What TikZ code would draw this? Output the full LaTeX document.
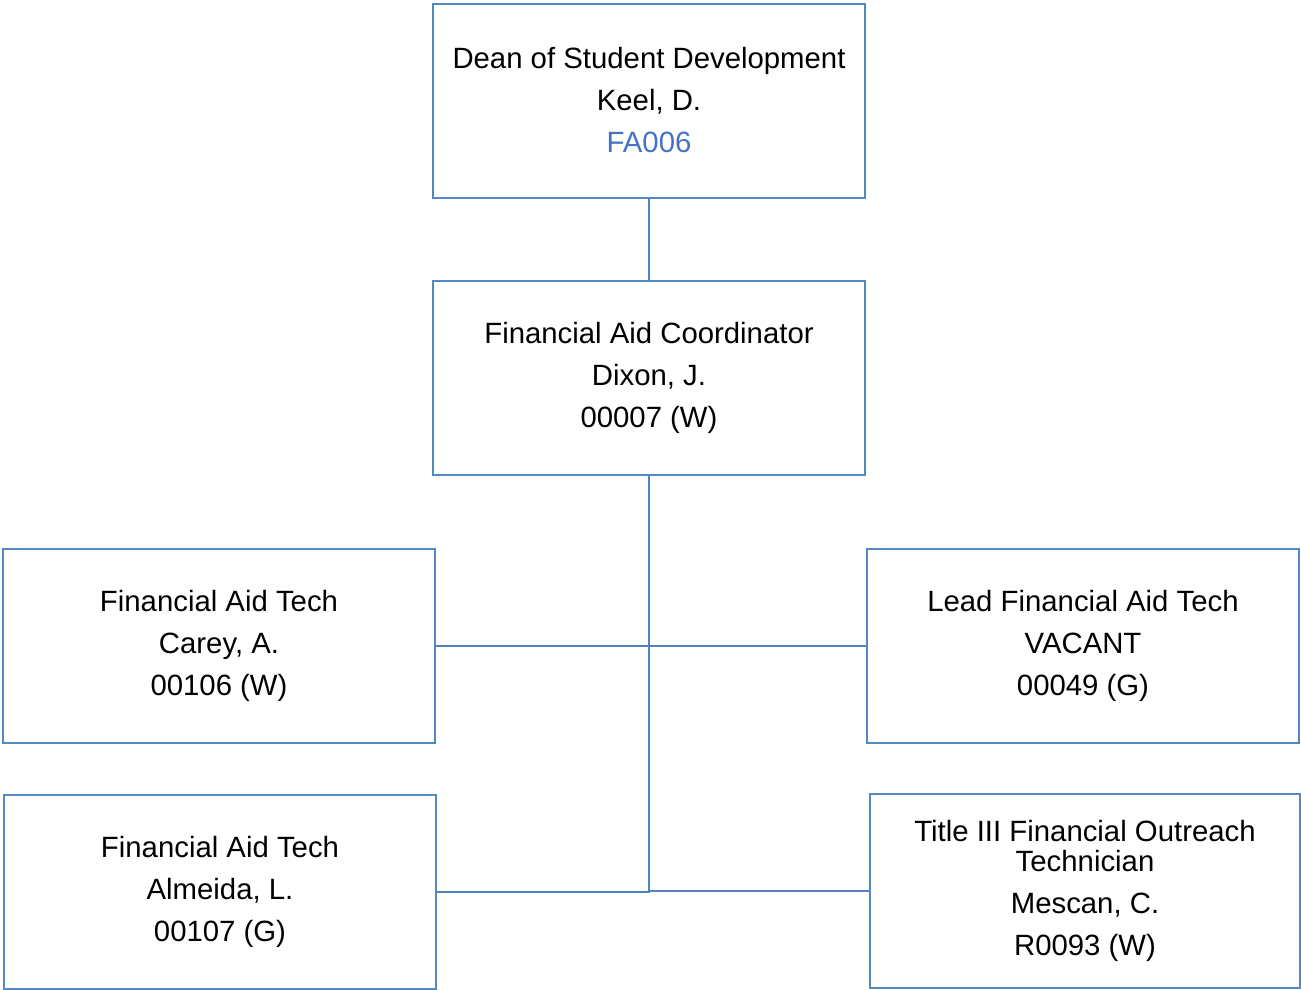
\documentclass[tikz,border=0pt]{standalone}
\usepackage{fontspec}
\setmainfont{Liberation Sans}
\usepackage{xcolor}
\usetikzlibrary{positioning, calc}
\definecolor{boxblue}{HTML}{5288C4}
\definecolor{lineblue}{HTML}{4F84BE}
\definecolor{codeblue}{HTML}{4472C4}
\tikzstyle{position} = [rectangle, minimum width=324pt, minimum height=145.5pt, align=center, draw=boxblue, line width=1.5pt, font=\fontsize{22}{31.5}\selectfont, inner sep=0pt]
\tikzstyle{conn} = [draw=lineblue, line width=1.5pt]

\begin{document}
\begin{tikzpicture}[x=0.75pt, y=-0.75pt]
    \useasboundingbox (0,0) rectangle (1301,989);
    \node (dean) [position] at (649,100.5) {Dean of Student Development\\Keel, D.\\\textcolor{codeblue}{FA006}};
    \node (coord) [position] at (649,378) {Financial Aid Coordinator\\Dixon, J.\\00007 (W)};
    \node (tech1) [position] at (219,646) {Financial Aid Tech\\Carey, A.\\00106 (W)};
    \node (lead) [position] at (1083,646) {Lead Financial Aid Tech\\VACANT\\00049 (G)};
    \node (tech2) [position] at (220,891.5) {Financial Aid Tech\\Almeida, L.\\00107 (G)};
    \node (outreach) [position, minimum width=322.5pt] at (1085,890.5) {Title III Financial Outreach\\[-9pt]Technician\\Mescan, C.\\R0093 (W)};

    \draw [conn] (dean) -- (coord);
    \draw [conn] (tech1.east) -- (lead.west);
    \draw [conn] (tech2.east) -| (coord.south);
    \draw [conn] (outreach.west) -- (outreach.west -| coord.south);
\end{tikzpicture}
\end{document}
